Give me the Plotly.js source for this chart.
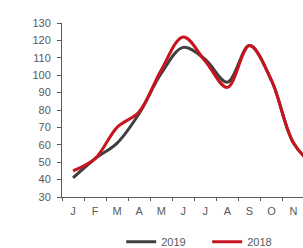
<!DOCTYPE html>
<html>
<head>
<meta charset="utf-8">
<script src="https://cdn.plot.ly/plotly-3.0.1.min.js"></script>
<style>html,body{margin:0;padding:0;background:#fff;}#chart{width:303px;height:248px;}</style>
</head>
<body>
<div id="chart"></div>
<script>
var months = ["J","F","M","A","M","J","J","A","S","O","N","D"];
var series2019 = [41, 52, 61, 78, 101, 116, 109, 96, 117, 97, 61, 47];
var series2018 = [45, 52, 70, 79, 103, 122, 108, 93, 117, 97, 61, 47];
var idx = months.map(function(_, i){ return i; });

var traces = [
  {x: idx, y: series2019, name: "2019", type: "scatter", mode: "lines",
   line: {color: "#404040", width: 3, shape: "spline", smoothing: 1}},
  {x: idx, y: series2018, name: "2018", type: "scatter", mode: "lines",
   line: {color: "#c8141e", width: 3, shape: "spline", smoothing: 1}}
];
var fnt = {family: "Liberation Sans, Arial, sans-serif", size: 11, color: "#595959"};
var layout = {
  width: 303, height: 248,
  margin: {l: 61.5, r: 0, t: 23, b: 50.5, autoexpand: false},
  paper_bgcolor: "#fff", plot_bgcolor: "#fff",
  font: fnt,
  showlegend: true,
  legend: {orientation: "h", xref: "container", yref: "container",
           x: 0.40, xanchor: "left", y: 0.025, yanchor: "middle",
           font: fnt, entrywidth: 41, bgcolor: "rgba(0,0,0,0)"},
  xaxis: {range: [-0.5, 10.43], tickmode: "array", tickvals: idx, ticktext: months,
          ticks: "outside", ticklen: 0, showgrid: false, zeroline: false,
          showline: true, linecolor: "#595959", linewidth: 1, tickfont: fnt,
          ticklabelstandoff: 4,
          minor: {tickmode: "linear", tick0: -0.5, dtick: 1, ticks: "outside", ticklen: 3,
                  tickcolor: "#595959", showgrid: false}},
  yaxis: {range: [30, 130], dtick: 10, tick0: 30, ticks: "outside", ticklen: 4,
          tickcolor: "#595959", showgrid: false, zeroline: false, showline: true,
          linecolor: "#595959", linewidth: 1, tickfont: fnt, ticklabelstandoff: 4}
};
Plotly.newPlot("chart", traces, layout, {staticPlot: true, displayModeBar: false});
</script>
</body>
</html>
